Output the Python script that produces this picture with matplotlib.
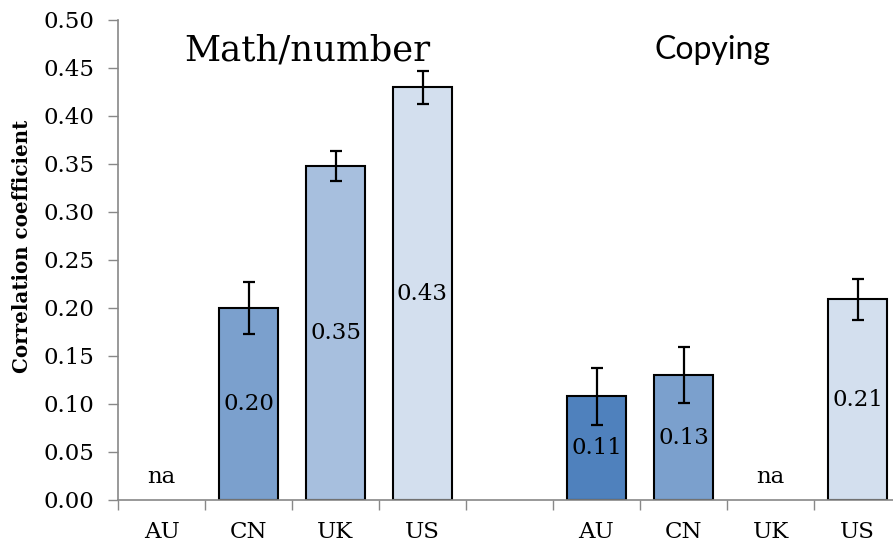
import numpy as np
import matplotlib
matplotlib.use("Agg")
import matplotlib.pyplot as plt

# Data
countries = ["AU", "CN", "UK", "US"]
math_vals = [np.nan, 0.20, 0.348, 0.43]
math_err = [np.nan, 0.027, 0.016, 0.017]
copy_vals = [0.108, 0.130, np.nan, 0.209]
copy_err = [0.030, 0.029, np.nan, 0.021]
group_titles = ["Math/number", "Copying"]

colors = ["#4f81bd", "#7ba0cd", "#a7bfde", "#d3dfee"]
serif = ["DejaVu Serif"]
fs = 16.5

fig = plt.figure(figsize=(8.93, 5.48), dpi=100)
ax = fig.add_axes([118 / 893, 48 / 548, 783 / 893, 480 / 548])

# group 1 at slots 0..3, empty slot 4, group 2 at slots 5..8
for offset, vals, errs in [(0, math_vals, math_err), (5, copy_vals, copy_err)]:
    for i, (v, e) in enumerate(zip(vals, errs)):
        x = offset + i
        if np.isnan(v):
            ax.text(x, 0.024, "na", ha="center", va="center", fontsize=fs, family=serif)
            continue
        ax.bar(x, v, width=0.67, color=colors[i], edgecolor="black", linewidth=1.5, zorder=2)
        ax.errorbar(x, v, yerr=e, fmt="none", ecolor="black", elinewidth=1.6,
                    capsize=4.3, capthick=1.6, zorder=3)
        ax.text(x, v / 2, f"{v:.2f}", ha="center", va="center", fontsize=fs, family=serif, zorder=4)

ax.set_xlim(-0.5, 8.5)
ax.set_ylim(0, 0.5)
ax.set_yticks(np.arange(0, 0.501, 0.05))
ax.set_yticklabels([f"{t:.2f}" for t in np.arange(0, 0.501, 0.05)], family=serif, fontsize=fs)

# boundary ticks without labels, country labels at centers
ax.set_xticks(np.arange(-0.5, 8.6, 1.0))
ax.set_xticklabels([])
ax.set_xticks([0, 1, 2, 3, 5, 6, 7, 8], minor=True)
ax.set_xticklabels(countries + countries, minor=True, family=serif, fontsize=fs)
ax.tick_params(axis="x", which="minor", length=0, pad=15)
ax.tick_params(axis="x", which="major", length=7, width=1, color="#888888")
ax.tick_params(axis="y", length=7, width=1, color="#888888", pad=10)

for s in ["top", "right"]:
    ax.spines[s].set_visible(False)
for s in ["left", "bottom"]:
    ax.spines[s].set_color("#888888")
    ax.spines[s].set_linewidth(1.2)

fig.text(22 / 893, 1 - 246 / 548, "Correlation coefficient", rotation=90, ha="center", va="center",
         fontsize=14.3, fontweight="bold", family=serif)

fig.text(307 / 893, 1 - 50 / 548, group_titles[0], ha="center", va="center", fontsize=25.5, family=serif)
fig.text(712 / 893, 1 - 50 / 548, group_titles[1], ha="center", va="center", fontsize=23, family=["Lato", "DejaVu Sans"])

fig.savefig("out.png", dpi=100)
